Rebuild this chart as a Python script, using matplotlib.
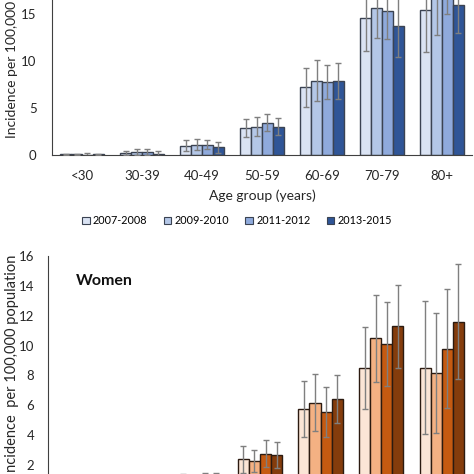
import matplotlib
matplotlib.use("Agg")
import matplotlib.pyplot as plt
import numpy as np
from matplotlib.patches import Patch

plt.rcParams['font.family'] = ['Lato', 'DejaVu Sans']

age_groups = ["<30", "30-39", "40-49", "50-59", "60-69", "70-79", "80+"]
periods = ["2007-2008", "2009-2010", "2011-2012", "2013-2015"]

# Men (top panel)
men_vals = [
    [0.10, 0.25, 1.0, 2.85, 7.2, 14.6, 15.4],
    [0.10, 0.30, 1.1, 3.0, 7.9, 15.6, 17.2],
    [0.05, 0.30, 1.1, 3.45, 7.8, 15.3, 17.4],
    [0.10, 0.15, 0.8, 3.0, 7.9, 13.75, 16.0],
]
men_err = [
    [0.05, 0.2, 0.6, 0.95, 2.1, 3.5, 4.4],
    [0.05, 0.3, 0.6, 1.0, 2.2, 3.2, 4.4],
    [0.15, 0.3, 0.5, 0.9, 1.8, 3.0, 2.4],
    [0.05, 0.25, 0.6, 0.9, 1.9, 3.3, 3.0],
]

# Women (bottom panel)
women_vals = [
    [0.05, 0.2, 0.9, 2.38, 5.76, 8.51, 8.51],
    [0.05, 0.3, 0.8, 2.27, 6.18, 10.49, 8.16],
    [0.05, 0.2, 1.0, 2.76, 5.56, 10.11, 9.8],
    [0.05, 0.3, 1.0, 2.67, 6.42, 11.29, 11.6],
]
women_err = [
    [0.05, 0.2, 0.5, 0.9, 1.9, 2.76, 4.45],
    [0.05, 0.2, 0.5, 0.75, 1.9, 2.9, 4.0],
    [0.05, 0.2, 0.5, 0.9, 1.7, 2.78, 4.0],
    [0.05, 0.2, 0.5, 0.86, 1.6, 2.78, 3.84],
]

blue_colors = ["#dae3f3", "#b4c7e7", "#8faadc", "#2f5597"]
orange_colors = ["#fbe5d6", "#f4b183", "#c55a11", "#843c0c"]

W = H = 474
fig = plt.figure(figsize=(4.74, 4.74), dpi=100)

def px_axes(left, top, right, bottom):
    return fig.add_axes([left / W, 1 - bottom / H, (right - left) / W, (bottom - top) / H])

x = np.arange(len(age_groups))
bw = 0.183
offsets = (np.arange(4) - 1.5) * bw
txt = "#262626"

# Top (men)
ax1 = px_axes(52, 155 - 188, 472, 155)
for i in range(4):
    ax1.bar(x + offsets[i], men_vals[i], bw, color=blue_colors[i], edgecolor="#3b4352",
            linewidth=1.0, zorder=2)
    ax1.errorbar(x + offsets[i], men_vals[i], yerr=men_err[i], fmt='none', ecolor="#7f7f7f",
                 elinewidth=1.0, capsize=2.2, capthick=1.0, zorder=3)
ax1.set_xlim(-0.5, len(age_groups) - 0.5)
ax1.set_ylim(0, 20)
ax1.set_yticks([0, 5, 10, 15, 20])
ax1.set_xticks(x)
ax1.set_xticklabels(age_groups)
for s in ["top", "right"]:
    ax1.spines[s].set_visible(False)
ax1.spines["bottom"].set_color("#404040")
ax1.spines["left"].set_color("#404040")
ax1.tick_params(length=0, labelsize=9.5, colors=txt)
ax1.tick_params(axis='x', pad=11)
ax1.tick_params(axis='y', pad=11)
ax1.set_xlabel("Age group (years)", fontsize=10, color=txt, labelpad=5)
fig.text(12 / W, 1 - 138 / H, "Incidence per 100,000 population", rotation=90,
         ha='center', va='bottom', fontsize=10, color=txt)

handles = [Patch(facecolor=blue_colors[i], edgecolor="#3b4352", linewidth=0.8) for i in range(4)]
fig.legend(handles, periods, loc='center', bbox_to_anchor=(237 / W, 1 - 221 / H), ncol=4,
           frameon=False, fontsize=7.8, handlelength=0.7, handleheight=0.7,
           handletextpad=0.3, columnspacing=1.5)

# Bottom (women)
ax2 = px_axes(48, 256, 472, 495)
for i in range(4):
    ax2.bar(x + offsets[i], women_vals[i], bw, color=orange_colors[i], edgecolor="#2b1a10",
            linewidth=1.0, zorder=2)
    ax2.errorbar(x + offsets[i], women_vals[i], yerr=women_err[i], fmt='none', ecolor="#7f7f7f",
                 elinewidth=1.0, capsize=2.2, capthick=1.0, zorder=3)
ax2.set_xlim(-0.5, len(age_groups) - 0.5)
ax2.set_ylim(0, 16)
ax2.set_yticks(np.arange(0, 17, 2))
ax2.set_xticks([])
for s in ["top", "right"]:
    ax2.spines[s].set_visible(False)
ax2.spines["left"].set_color("#404040")
ax2.spines["bottom"].set_color("#404040")
ax2.tick_params(length=0, labelsize=9.5, colors=txt, pad=10)
ax2.text(0.066, 0.895, "Women", transform=ax2.transAxes, fontsize=11.5, fontweight='bold',
         ha='left', va='center', color="#111111")
fig.text(12 / W, 1 - 255 / H, "Incidence  per 100,000 population", rotation=90,
         ha='center', va='top', fontsize=10.5, color=txt)

fig.savefig("out.png", dpi=100)
